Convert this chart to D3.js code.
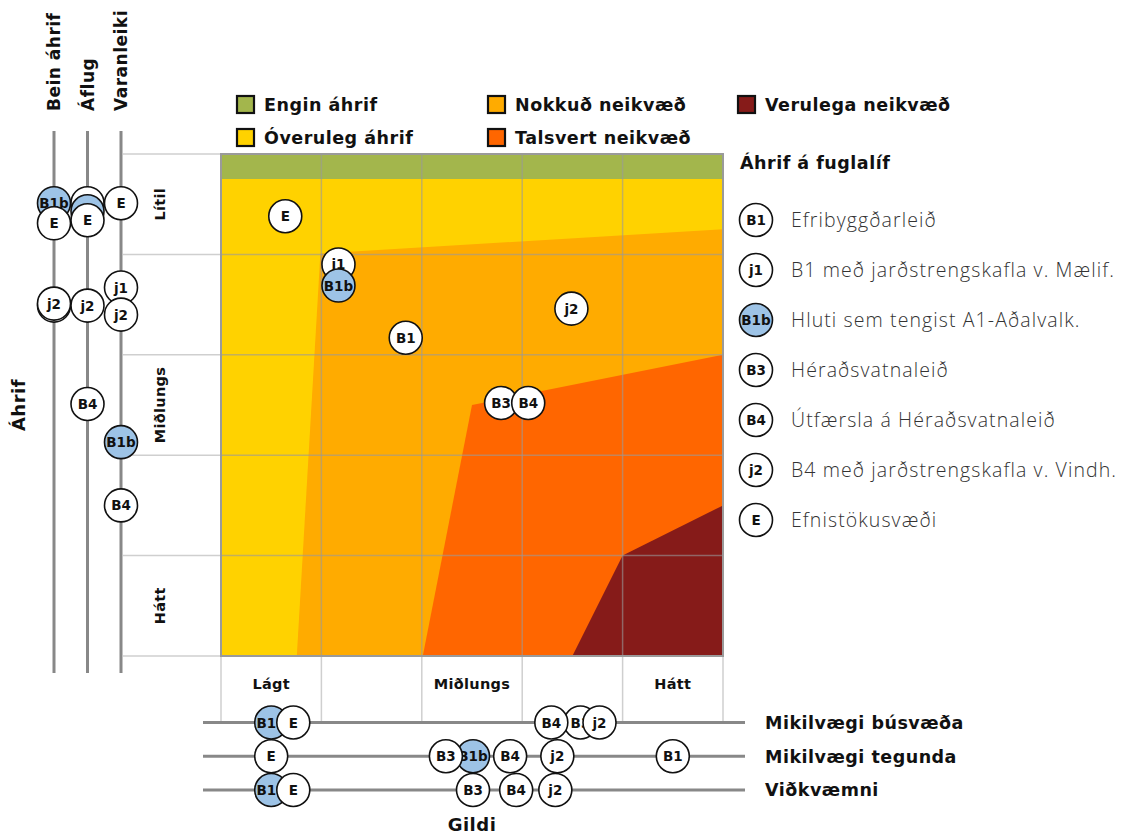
<!DOCTYPE html>
<html><head><meta charset="utf-8">
<script src="https://cdn.jsdelivr.net/npm/d3@7"></script>
<style>body{margin:0;background:#fff}</style>
</head><body>
<svg id="c" width="1131" height="836"></svg>
<script>
// ---------- data ----------
const levelsX = ["Lágt", "", "Miðlungs", "", "Hátt"];
const levelsY = ["Lítil", "", "Miðlungs", "", "Hátt"];
const zoneNames = ["Engin áhrif", "Óveruleg áhrif", "Nokkuð neikvæð", "Talsvert neikvæð", "Verulega neikvæð"];
const zoneColors = ["#a3b64c", "#ffd200", "#ffab00", "#ff6600", "#861b19"];
// zone outlines in (gildi, áhrif) units, 0..5 each
const zoneEngin = [[0, 0], [5, 0], [5, 0.25], [0, 0.25]];
const zoneOveruleg = [[0, 0.25], [5, 0.25], [5, 5], [0, 5]];
const zoneNokkud = [[0.99, 0.99], [5, 0.75], [5, 5], [0.755, 5]];
const zoneTalsvert = [[2.5, 2.5], [5, 2.0], [5, 5], [2.01, 5]];
const zoneVerulega = [[4.0, 4.0], [5, 3.5], [5, 5], [3.5, 5]];

const legendIds = ["B1", "j1", "B1b", "B3", "B4", "j2", "E"];
const legendNames = ["Efribyggðarleið", "B1 með jarðstrengskafla v. Mælif.", "Hluti sem tengist A1-Aðalvalk.",
  "Héraðsvatnaleið", "Útfærsla á Héraðsvatnaleið", "B4 með jarðstrengskafla v. Vindh.", "Efnistökusvæði"];

// main plot positions
const plotIds = ["E", "j1", "B1b", "B1", "j2", "B3", "B4"];
const plotGildi = [0.64, 1.17, 1.17, 1.84, 3.49, 2.79, 3.06];
const plotAhrif = [0.62, 1.10, 1.31, 1.83, 1.54, 2.48, 2.48];

// left axes (áhrif)
const leftAxes = ["Bein áhrif", "Áflug", "Varanleiki"];
const beinIds = ["B1b", "E", "j1", "j2"];
const beinVals = [0.49, 0.69, 1.51, 1.49];
const aflugIds = ["B1", "B1b", "E", "j2", "B4"];
const aflugVals = [0.49, 0.57, 0.66, 1.51, 2.49];
const varanIds = ["E", "j1", "j2", "B1b", "B4"];
const varanVals = [0.49, 1.33, 1.60, 2.87, 3.50];

// bottom axes (gildi)
const bottomAxes = ["Mikilvægi búsvæða", "Mikilvægi tegunda", "Viðkvæmni"];
const busIds = ["B1b", "E", "B3", "B4", "j2"];
const busVals = [0.50, 0.72, 3.58, 3.29, 3.77];
const tegIds = ["E", "B1b", "B3", "B4", "j2", "B1"];
const tegVals = [0.50, 2.51, 2.24, 2.88, 3.35, 4.50];
const vidIds = ["B1b", "E", "B3", "B4", "j2"];
const vidVals = [0.50, 0.72, 2.51, 2.94, 3.33];

// ---------- drawing ----------
const svg = d3.select("#c");
const BOLD = "'DejaVu Sans', sans-serif";
const LIGHT = "'Open Sans', 'Noto Sans', sans-serif";
const x = d3.scaleLinear().domain([0, 5]).range([221, 723]);
const y = d3.scaleLinear().domain([0, 5]).range([154, 656]);
const leftX = d3.scalePoint().domain(leftAxes).range([54, 121]);
const botY = d3.scalePoint().domain(bottomAxes).range([722.5, 790]);
const R = 16.5;
const fillFor = id => id === "B1b" ? "#9dc3e6" : "#fff";

function marker(g, cx, cy, id, showText = true) {
  const m = g.append("g").attr("transform", `translate(${cx},${cy})`);
  m.append("circle").attr("r", R).attr("fill", fillFor(id)).attr("stroke", "#111").attr("stroke-width", 1.6);
  if (showText) m.append("text").attr("text-anchor", "middle").attr("dy", "0.37em")
    .attr("font-family", BOLD).attr("font-weight", "bold").attr("font-size", 13.5).attr("fill", "#111").text(id);
}
function boldText(sel, size, ls) {
  return sel.attr("font-family", BOLD).attr("font-weight", "bold").attr("font-size", size)
    .attr("letter-spacing", ls).attr("fill", "#111");
}

// outside grid lines
const ticks = d3.range(6);
svg.append("g").selectAll("line").data(ticks).join("line")
  .attr("x1", 123).attr("x2", x(0)).attr("y1", d => y(d)).attr("y2", d => y(d))
  .attr("stroke", "#cfcfcf").attr("stroke-width", 1.5);
svg.append("g").selectAll("line").data(ticks).join("line")
  .attr("x1", d => x(d)).attr("x2", d => x(d)).attr("y1", y(5)).attr("y2", botY(bottomAxes[0]))
  .attr("stroke", "#cfcfcf").attr("stroke-width", 1.5);

// zones
const zones = [zoneEngin, zoneOveruleg, zoneNokkud, zoneTalsvert, zoneVerulega];
const line = d3.line().x(d => x(d[0])).y(d => y(d[1]));
const zoneOrder = [1, 0, 2, 3, 4];
svg.append("g").selectAll("path").data(zoneOrder).join("path")
  .attr("d", i => line(zones[i]) + "Z").attr("fill", i => zoneColors[i]);

// inner grid
svg.append("g").selectAll("line").data(ticks.slice(1, 5)).join("line")
  .attr("x1", d => x(d)).attr("x2", d => x(d)).attr("y1", y(0)).attr("y2", y(5))
  .attr("stroke", "#9a9a9a").attr("stroke-opacity", 0.6).attr("stroke-width", 1.5);
svg.append("g").selectAll("line").data(ticks.slice(1, 5)).join("line")
  .attr("y1", d => y(d)).attr("y2", d => y(d)).attr("x1", x(0)).attr("x2", x(5))
  .attr("stroke", "#9a9a9a").attr("stroke-opacity", 0.6).attr("stroke-width", 1.5);
svg.append("rect").attr("x", x(0)).attr("y", y(0)).attr("width", x(5) - x(0)).attr("height", y(5) - y(0))
  .attr("fill", "none").attr("stroke", "#9a9a9a").attr("stroke-width", 2);

// level labels
boldText(svg.append("g").selectAll("text").data(levelsY).join("text"), 14.5, 0.3)
  .attr("transform", (d, i) => `translate(165,${y(i + 0.5)}) rotate(-90)`)
  .attr("text-anchor", "middle").text(d => d);
boldText(svg.append("g").selectAll("text").data(levelsX).join("text"), 14.5, 0.3)
  .attr("x", (d, i) => x(i + 0.5)).attr("y", 689)
  .attr("text-anchor", "middle").text(d => d);

// left axes
svg.append("g").selectAll("line").data(leftAxes).join("line")
  .attr("x1", d => leftX(d)).attr("x2", d => leftX(d)).attr("y1", 131).attr("y2", 673)
  .attr("stroke", "#888").attr("stroke-width", 3);
boldText(svg.append("g").selectAll("text").data(leftAxes).join("text"), 17, 0.5)
  .attr("transform", d => `translate(${leftX(d) + 6},111) rotate(-90)`)
  .attr("text-anchor", "start").text(d => d);
boldText(svg.append("text"), 18, 0.5).attr("transform", `translate(25,${y(2.5)}) rotate(-90)`)
  .attr("text-anchor", "middle").text("Áhrif");

// bottom axes
svg.append("g").selectAll("line").data(bottomAxes).join("line")
  .attr("y1", d => botY(d)).attr("y2", d => botY(d)).attr("x1", 203).attr("x2", 745)
  .attr("stroke", "#888").attr("stroke-width", 3);
boldText(svg.append("g").selectAll("text").data(bottomAxes).join("text"), 17.5, 0.5)
  .attr("x", 765).attr("y", d => botY(d)).attr("dy", "0.36em").text(d => d);
boldText(svg.append("text"), 18, 0.5).attr("x", x(2.5)).attr("y", 831)
  .attr("text-anchor", "middle").text("Gildi");

// markers (labels of markers that are fully covered are not drawn)
const mg = svg.append("g");
const coveredLeft = { "Bein áhrif": ["j1"], "Áflug": ["B1", "B1b"] };
[[beinIds, beinVals, leftAxes[0]], [aflugIds, aflugVals, leftAxes[1]], [varanIds, varanVals, leftAxes[2]]]
  .forEach(([ids, vals, ax]) => ids.forEach((id, i) =>
    marker(mg, leftX(ax), y(vals[i]), id, !(coveredLeft[ax] || []).includes(id))));
[[busIds, busVals, bottomAxes[0]], [tegIds, tegVals, bottomAxes[1]], [vidIds, vidVals, bottomAxes[2]]]
  .forEach(([ids, vals, ax]) => ids.forEach((id, i) => marker(mg, x(vals[i]), botY(ax), id)));
plotIds.forEach((id, i) => marker(mg, x(plotGildi[i]), y(plotAhrif[i]), id));

// top legend
const legPos = [[237, 96], [237, 129], [488, 96], [488, 129], [738, 96]];
const lg = svg.append("g");
zoneNames.forEach((n, i) => {
  const [lx, ly] = legPos[i];
  lg.append("rect").attr("x", lx).attr("y", ly).attr("width", 17).attr("height", 17)
    .attr("fill", zoneColors[i]).attr("stroke", "#111").attr("stroke-width", 2.2);
  boldText(lg.append("text"), 17.5, 0.5).attr("x", lx + 27).attr("y", ly + 8.5).attr("dy", "0.36em").text(n);
});

// right legend
boldText(svg.append("text"), 17.5, 0.5).attr("x", 740).attr("y", 163).attr("dy", "0.36em")
  .text("Áhrif á fuglalíf");
legendIds.forEach((id, i) => {
  marker(svg, 756, 220 + i * 50, id);
  svg.append("text").attr("x", 791).attr("y", 220 + i * 50).attr("dy", "0.36em")
    .attr("font-family", LIGHT).attr("font-weight", 300).attr("font-size", 19.5).attr("letter-spacing", 1.1)
    .attr("fill", "#333").text(legendNames[i]);
});
</script>
</body></html>
